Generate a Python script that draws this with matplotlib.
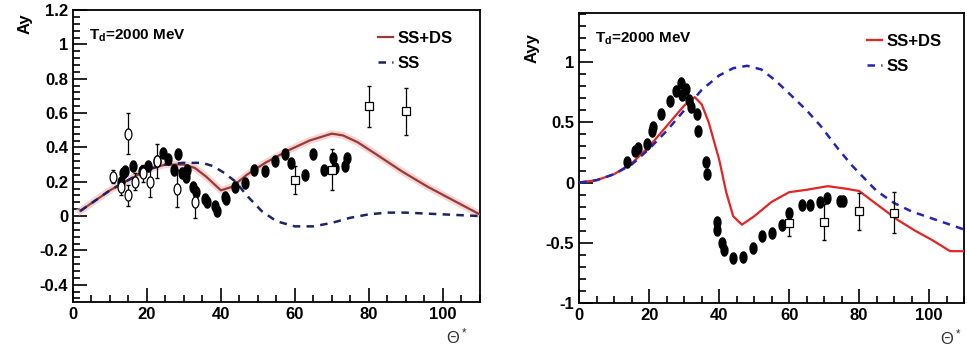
import numpy as np
import matplotlib
matplotlib.use("Agg")
import matplotlib.pyplot as plt
from matplotlib.ticker import MultipleLocator

plt.rcParams['font.family'] = ['Liberation Sans Narrow', 'Liberation Sans', 'DejaVu Sans']
plt.rcParams['font.weight'] = 'bold'

# ---- left panel: Ay ----
ay_th = [2, 10, 20, 25, 30, 33, 36, 40, 43, 47, 52, 58, 64, 70, 73, 77, 82, 89, 96, 103, 110]
ay_ssds = [0.03, 0.15, 0.27, 0.30, 0.30, 0.28, 0.23, 0.15, 0.17, 0.24, 0.31, 0.38, 0.44, 0.48, 0.47, 0.43, 0.36, 0.26, 0.17, 0.09, 0.01]
ay_ss_th = [2, 10, 20, 25, 30, 35, 38, 41, 44, 47, 51, 55, 60, 65, 70, 75, 80, 85, 90, 100, 110]
ay_ss = [0.03, 0.15, 0.27, 0.30, 0.31, 0.31, 0.29, 0.25, 0.20, 0.12, 0.03, -0.03, -0.06, -0.06, -0.04, -0.01, 0.01, 0.02, 0.02, 0.01, 0.0]

ay_fill_th = [13, 13.5, 14, 16.3, 18.6, 20.4, 22.7, 24.4, 25.8, 27.3, 28.4, 29.4, 30.5, 30.8, 32.4, 33.4,
              35.7, 36.2, 38.4, 38.9, 41, 41.5, 43.8, 46.5, 49, 52, 54.6, 57.3, 59, 62.7, 64.8, 68, 70.3, 70.8, 73.5, 74]
ay_fill = [0.20, 0.25, 0.26, 0.29, 0.26, 0.29, 0.32, 0.37, 0.33, 0.27, 0.36, 0.25, 0.23, 0.27, 0.17, 0.14,
           0.10, 0.08, 0.06, 0.03, 0.11, 0.10, 0.17, 0.19, 0.27, 0.26, 0.32, 0.36, 0.31, 0.24, 0.36, 0.27, 0.34, 0.28, 0.29, 0.34]

ay_open_th = [10.9, 12.9, 15, 15, 16.8, 19, 20.8, 22.7, 28, 33]
ay_open = [0.23, 0.17, 0.12, 0.48, 0.20, 0.25, 0.20, 0.32, 0.16, 0.08]
ay_open_err = [0.04, 0.05, 0.06, 0.12, 0.05, 0.05, 0.09, 0.10, 0.11, 0.09]

ay_sq_th = [60, 70, 80, 90]
ay_sq = [0.21, 0.27, 0.64, 0.61]
ay_sq_err = [0.08, 0.12, 0.12, 0.135]

# ---- right panel: Ayy ----
ayy_th = [0, 5, 10, 15, 20, 25, 30, 33, 35, 37, 40, 42, 44, 46.5, 50, 55, 60, 65, 71, 76, 80, 85, 91, 96, 101, 106, 110]
ayy_ssds = [0.0, 0.02, 0.07, 0.16, 0.30, 0.47, 0.64, 0.71, 0.65, 0.50, 0.19, -0.08, -0.28, -0.35, -0.28, -0.16, -0.08, -0.06, -0.03, -0.05, -0.07, -0.18, -0.31, -0.40, -0.48, -0.57, -0.57]
ayy_ss_th = [0, 5, 10, 15, 20, 25, 30, 35, 40, 44, 48, 52, 56, 60, 65, 69, 74, 78, 81, 85, 90, 95, 100, 105, 110]
ayy_ss = [0.0, 0.02, 0.07, 0.15, 0.28, 0.43, 0.60, 0.77, 0.89, 0.95, 0.97, 0.94, 0.85, 0.74, 0.60, 0.47, 0.28, 0.14, 0.05, -0.07, -0.17, -0.24, -0.29, -0.34, -0.39]

ayy_fill_th = [13.7, 16, 16.9, 19.3, 20.8, 21.2, 23.4, 26, 27.8, 29.1, 29.5, 30.6, 31.4, 32, 33.7, 34, 36.3, 36.6,
               39.4, 39.5, 40.9, 41.5, 44, 46.9, 49.7, 52.3, 55.2, 58, 60, 63.7, 66, 68.9, 70.8, 74.6, 75.4]
ayy_fill = [0.17, 0.26, 0.29, 0.32, 0.43, 0.46, 0.57, 0.68, 0.76, 0.83, 0.73, 0.78, 0.69, 0.63, 0.57, 0.43, 0.17, 0.07,
            -0.33, -0.39, -0.50, -0.56, -0.63, -0.62, -0.54, -0.44, -0.42, -0.35, -0.25, -0.19, -0.19, -0.16, -0.13, -0.15, -0.15]

ayy_sq_th = [60, 70, 80, 90]
ayy_sq = [-0.34, -0.33, -0.24, -0.25]
ayy_sq_err = [0.10, 0.15, 0.15, 0.17]

t = np.linspace(0, 2 * np.pi, 40)
ell = np.column_stack([0.62 * np.cos(t), np.sin(t)])

fig = plt.figure(figsize=(9.67, 3.47), dpi=100)
ax1 = fig.add_axes([0.0755, 0.130, 0.4205, 0.841])
ax2 = fig.add_axes([0.599, 0.127, 0.398, 0.836])

# left
ax1.plot(ay_th, ay_ssds, color='#f0b8b8', lw=5, alpha=0.6, zorder=2)
ax1.plot(ay_th, ay_ssds, color='#9a3a36', lw=1.6, zorder=3, label='SS+DS')
ax1.plot(ay_ss_th, ay_ss, color='#1c2466', lw=1.8, ls=(0, (3, 2.5)), zorder=3, label='SS')
ax1.errorbar(ay_fill_th, ay_fill, yerr=0.015, fmt='none', ecolor='k', lw=0.8, zorder=4)
ax1.plot(ay_fill_th, ay_fill, ls='none', marker=ell, ms=8, color='k', zorder=5)
ax1.errorbar(ay_open_th, ay_open, yerr=ay_open_err, fmt='none', ecolor='k', lw=0.9, capsize=1.5, zorder=4)
ax1.plot(ay_open_th, ay_open, ls='none', marker=ell, ms=8, mfc='white', mec='k', mew=0.9, zorder=5)
ax1.errorbar(ay_sq_th, ay_sq, yerr=ay_sq_err, fmt='none', ecolor='k', lw=0.9, capsize=1.5, zorder=4)
ax1.plot(ay_sq_th, ay_sq, ls='none', marker='s', ms=6, mfc='white', mec='k', mew=0.9, zorder=5)
ax1.set_xlim(0, 110)
ax1.set_ylim(-0.5, 1.2)
ax1.xaxis.set_major_locator(MultipleLocator(20))
ax1.xaxis.set_minor_locator(MultipleLocator(5))
ax1.set_yticks([-0.4, -0.2, 0, 0.2, 0.4, 0.6, 0.8, 1, 1.2])
ax1.set_yticklabels(['-0.4', '-0.2', '0', '0.2', '0.4', '0.6', '0.8', '1', '1.2'])
ax1.yaxis.set_minor_locator(MultipleLocator(0.04))
ax1.text(-0.118, 0.99, 'Ay', transform=ax1.transAxes, rotation=90, ha='center', va='top', fontsize=12, fontweight='bold')
ax1.text(0.04, 0.9, r'T$_{\mathregular{d}}$=2000 MeV', transform=ax1.transAxes, fontsize=11, fontweight='bold')
ax1.text(0.945, -0.12, r'$\mathregular{\Theta^*}$', transform=ax1.transAxes, fontsize=12,
         fontweight='normal', ha='center', va='center', color='#333333')
ax1.legend(loc='upper right', bbox_to_anchor=(0.95, 0.95), frameon=False, fontsize=12,
           handlelength=0.9, handletextpad=0.3, labelspacing=0.6, borderaxespad=0)

# right
ax2.plot(ayy_th, ayy_ssds, color='#e32424', lw=1.6, zorder=3, label='SS+DS')
ax2.plot(ayy_ss_th, ayy_ss, color='#2323b8', lw=1.8, ls=(0, (3, 2.5)), zorder=3, label='SS')
ax2.plot(ayy_fill_th, ayy_fill, ls='none', marker=ell, ms=8, color='k', zorder=5)
ax2.errorbar(ayy_sq_th, ayy_sq, yerr=ayy_sq_err, fmt='none', ecolor='k', lw=0.9, capsize=1.5, zorder=4)
ax2.plot(ayy_sq_th, ayy_sq, ls='none', marker='s', ms=6, mfc='white', mec='k', mew=0.9, zorder=5)
ax2.set_xlim(0, 110)
ax2.set_ylim(-1, 1.41)
ax2.xaxis.set_major_locator(MultipleLocator(20))
ax2.xaxis.set_minor_locator(MultipleLocator(5))
ax2.set_yticks([-1, -0.5, 0, 0.5, 1])
ax2.set_yticklabels(['-1', '-0.5', '0', '0.5', '1'])
ax2.yaxis.set_minor_locator(MultipleLocator(0.1))
ax2.text(-0.122, 0.93, 'Ayy', transform=ax2.transAxes, rotation=90, ha='center', va='top', fontsize=12, fontweight='bold')
ax2.text(0.04, 0.9, r'T$_{\mathregular{d}}$=2000 MeV', transform=ax2.transAxes, fontsize=11, fontweight='bold')
ax2.text(0.965, -0.12, r'$\mathregular{\Theta^*}$', transform=ax2.transAxes, fontsize=12,
         fontweight='normal', ha='center', va='center', color='#333333')
ax2.legend(loc='upper right', bbox_to_anchor=(0.96, 0.95), frameon=False, fontsize=12,
           handlelength=0.9, handletextpad=0.3, labelspacing=0.6, borderaxespad=0)

for ax in (ax1, ax2):
    ax.tick_params(which='both', direction='in', top=False, right=False, labelsize=12, width=1.2)
    ax.tick_params(which='major', length=10)
    ax.tick_params(which='minor', length=5)
    for s in ax.spines.values():
        s.set_linewidth(1.3)
    for lab in ax.get_xticklabels() + ax.get_yticklabels():
        lab.set_fontweight('bold')

fig.savefig('out.png', dpi=100)
